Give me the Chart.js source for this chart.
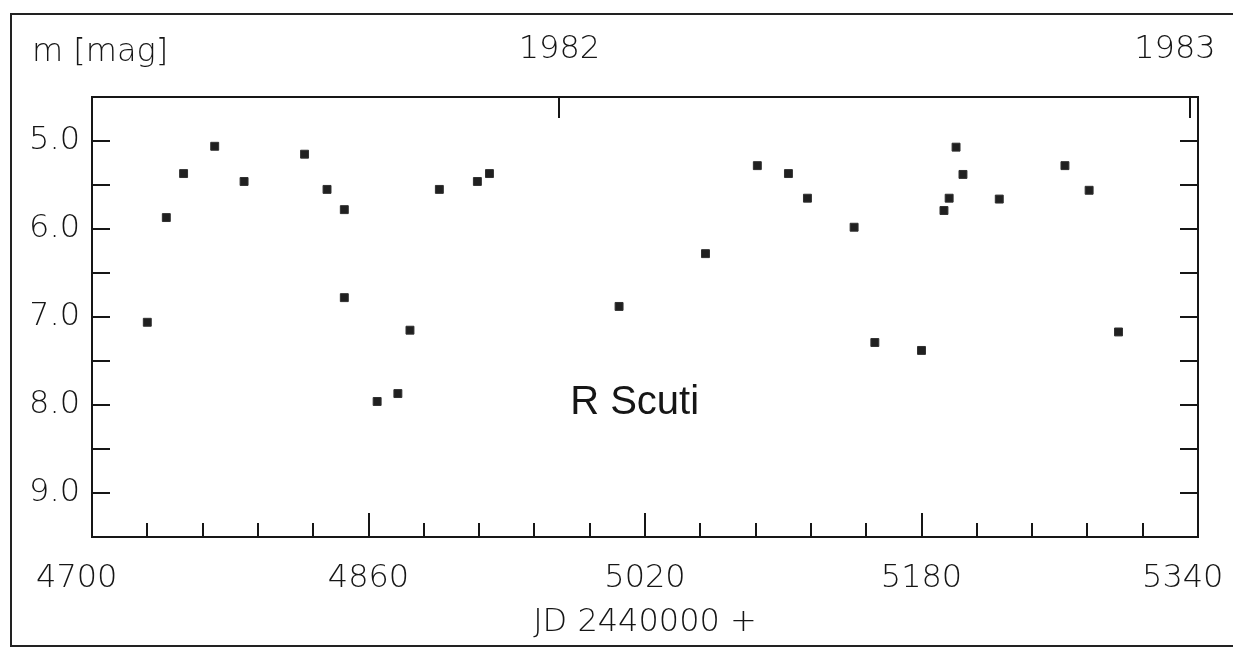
<!DOCTYPE html>
<html lang="en">
  <head>
    <meta charset="UTF-8" />
    <title>R Scuti</title>
    <style>
      html, body {
        margin: 0;
        padding: 0;
        background: #fff;
        overflow: hidden;
      }
      #frame {
        position: absolute;
        left: 10px;
        top: 13px;
        width: 1400px;
        height: 630px;
        border: 2px solid #222;
      }
      #chart-box {
        position: absolute;
        left: 0;
        top: 0;
      }
    </style>
  </head>
  <body>
    <div id="frame"></div>
    <div id="chart-box"><canvas id="myChart" width="1233" height="648"></canvas></div>
    <script src="https://cdn.jsdelivr.net/npm/chart.js"></script>
    <script>
      // observations: Julian date (minus 2440000) and visual magnitude
      const jd = [
        4732, 4743, 4753, 4771, 4788, 4823, 4836, 4846, 4846, 4865, 4877,
        4884, 4901, 4923, 4930, 5005, 5055, 5085, 5103, 5114, 5141, 5153,
        5180, 5193, 5196, 5200, 5204, 5225, 5263, 5277, 5294
      ]
      const mag = [
        7.06, 5.87, 5.37, 5.06, 5.46, 5.15, 5.55, 5.78, 6.78, 7.96, 7.87,
        7.15, 5.55, 5.46, 5.37, 6.88, 6.28, 5.28, 5.37, 5.65, 5.98, 7.29,
        7.38, 5.79, 5.65, 5.07, 5.38, 5.66, 5.28, 5.56, 7.17
      ]

      const jdMajor = [4700, 4860, 5020, 5180, 5340]
      const jdMinorStep = 32
      const magTicks = [5.0, 5.5, 6.0, 6.5, 7.0, 7.5, 8.0, 8.5, 9.0]
      const yearTicks = [4970.5, 5335.5] // 1 Jan 1982, 1 Jan 1983
      const yearLabels = ['1982', '1983']
      const starName = 'R Scuti'

      const jdMinor = []
      for (let v = jdMajor[0]; v <= jdMajor[jdMajor.length - 1]; v += jdMinorStep) {
        jdMinor.push(v)
      }

      const ink = '#161616'
      const font = { family: '"DejaVu Sans"', size: 32, weight: 300 }
      const setTicks = (values) => (scale) => {
        scale.ticks = values.map((v) => ({ value: v }))
      }
      // fixed box sizes, and no extra room reserved for labels at the ends
      const fixSize = (w, h) => (s) => {
        if (w !== null) s.width = w
        if (h !== null) s.height = h
        s.paddingLeft = 0
        s.paddingRight = 0
        s.paddingTop = 0
        s.paddingBottom = 0
      }
      // labels at the ends of the axis sit a little inside, as on the original
      const edgeLabel = (text, isEdge) => (isEdge ? text + '   ' : text)

      const starLabel = {
        id: 'starLabel',
        afterDatasetsDraw(chart) {
          const { ctx, scales } = chart
          ctx.save()
          ctx.font = '40px "Liberation Sans"'
          ctx.fillStyle = ink
          ctx.textAlign = 'center'
          ctx.textBaseline = 'alphabetic'
          ctx.fillText(starName, scales.x.getPixelForValue(5014), scales.y.getPixelForValue(8.1))
          ctx.restore()
        }
      }

      const axisLook = (tickLength) => ({
        grid: { drawOnChartArea: false, drawTicks: true, tickLength: tickLength, color: ink, lineWidth: 2 },
        border: { display: true, color: ink, width: 2 }
      })

      const ctx = document.getElementById('myChart')
      const myChart = new Chart(ctx, {
        type: 'scatter',
        data: {
          datasets: [
            {
              data: jd.map((d, i) => ({ x: d, y: mag[i] })),
              pointStyle: 'rect',
              pointRadius: 5.6,
              pointBackgroundColor: '#202020',
              pointBorderColor: '#303030',
              pointBorderWidth: 1
            }
          ]
        },
        plugins: [starLabel],
        options: {
          responsive: false,
          animation: false,
          layout: { padding: { left: 32, right: 0, top: 0, bottom: 0 } },
          plugins: {
            legend: { display: false },
            tooltip: { enabled: false },
            title: {
              display: true,
              text: 'm [mag]',
              align: 'start',
              color: ink,
              font: font,
              padding: { top: 33, bottom: 0 }
            }
          },
          scales: {
            x: {
              type: 'linear',
              position: 'bottom',
              weight: 1,
              min: 4700,
              max: 5340,
              afterBuildTicks: setTicks(jdMajor),
              afterFit: fixSize(null, 111),
              ...axisLook(-24),
              ticks: {
                color: ink,
                font: font,
                padding: 46,
                autoSkip: false,
                maxRotation: 0,
                callback: (v, i, t) => edgeLabel(String(v), i === 0 || i === t.length - 1)
              },
              title: { display: true, text: 'JD 2440000 +', color: ink, font: font, padding: { top: 0, bottom: 6 } }
            },
            xMinor: {
              type: 'linear',
              position: 'bottom',
              weight: 0,
              min: 4700,
              max: 5340,
              afterBuildTicks: setTicks(jdMinor),
              afterFit: fixSize(null, 0),
              ...axisLook(-14),
              ticks: { display: false }
            },
            xYear: {
              type: 'linear',
              position: 'top',
              min: 4700,
              max: 5340,
              afterBuildTicks: setTicks(yearTicks),
              afterFit: fixSize(null, 97 - 71.4),
              ...axisLook(-21),
              ticks: {
                color: ink,
                font: font,
                mirror: true,
                padding: -67,
                autoSkip: false,
                maxRotation: 0,
                callback: (v, i, t) => edgeLabel(yearLabels[i], i === t.length - 1)
              }
            },
            y: {
              type: 'linear',
              position: 'left',
              reverse: true,
              min: 4.5,
              max: 9.5,
              afterBuildTicks: setTicks(magTicks),
              afterFit: fixSize(60, null),
              ...axisLook(-18),
              ticks: {
                color: ink,
                font: font,
                padding: 30,
                autoSkip: false,
                callback: (v) => (Number.isInteger(v) ? v.toFixed(1) : '')
              }
            },
            yRight: {
              type: 'linear',
              position: 'right',
              reverse: true,
              min: 4.5,
              max: 9.5,
              afterBuildTicks: setTicks(magTicks),
              afterFit: fixSize(35, null),
              ...axisLook(-18),
              ticks: { display: false }
            }
          }
        }
      })
    </script>
  </body>
</html>
